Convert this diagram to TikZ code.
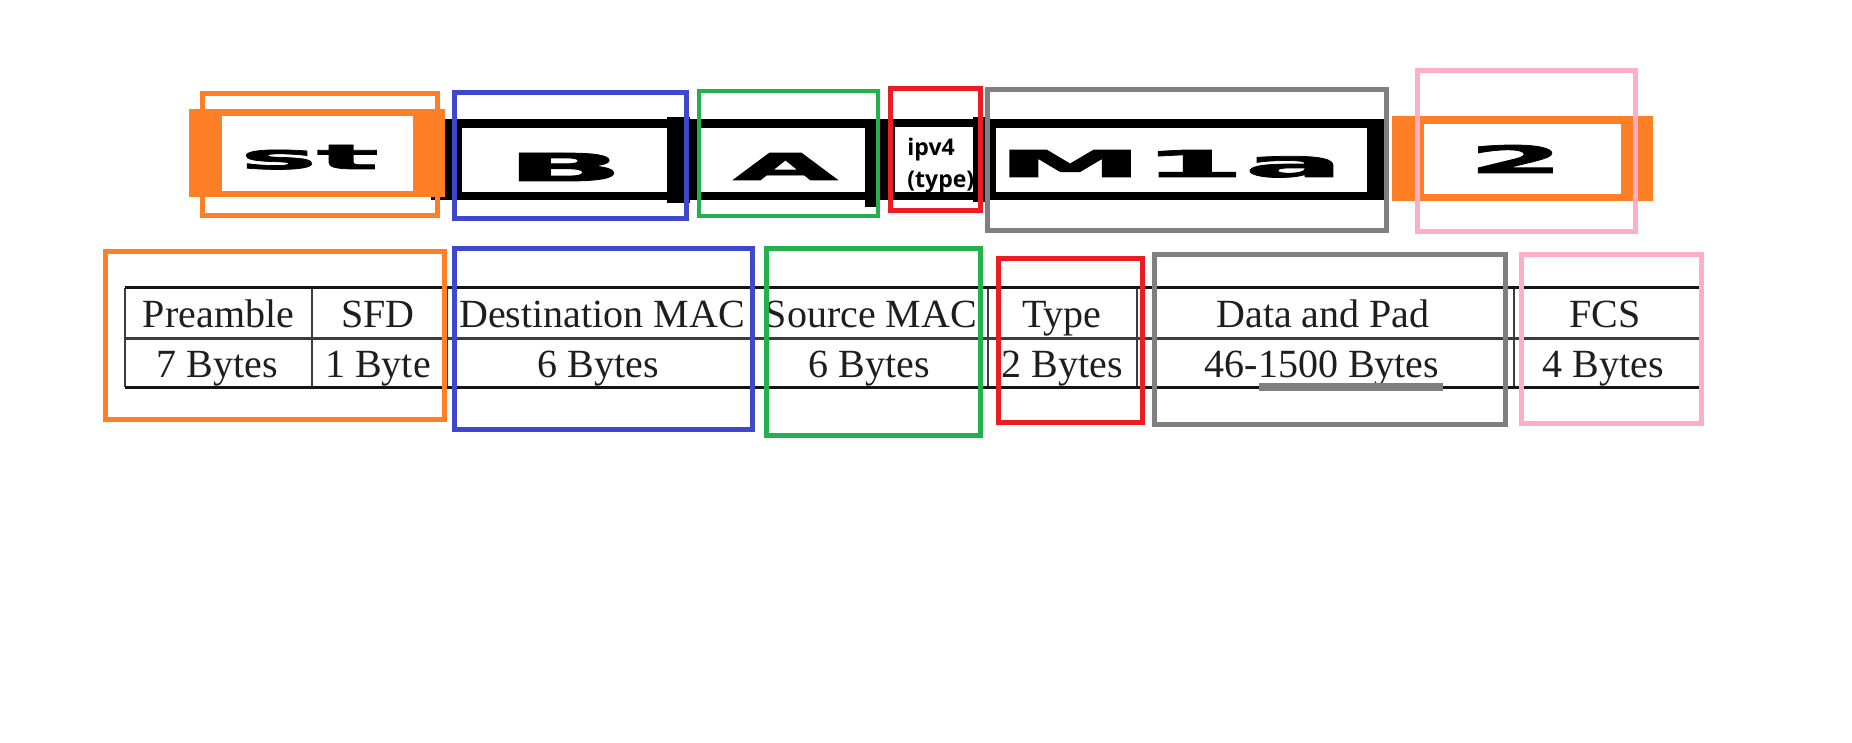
\documentclass[tikz,border=0pt]{standalone}
\usepackage{graphicx}
\usepackage{fontspec}
\setmainfont{Liberation Serif}
\newfontfamily\heavysans{DejaVu Sans}[BoldFeatures={FakeBold=2}]
\newfontfamily\labelsans{Open Sans}
\definecolor{porange}{RGB}{255,127,39}
\definecolor{pblue}{RGB}{63,72,204}
\definecolor{pgreen}{RGB}{34,177,76}
\definecolor{pred}{RGB}{237,28,36}
\definecolor{pgray}{RGB}{127,127,127}
\definecolor{ppink}{RGB}{255,174,201}
\definecolor{tabdark}{RGB}{20,20,20}
\definecolor{tabmid}{RGB}{60,60,60}
\definecolor{tabtext}{RGB}{30,30,30}
\begin{document}
\begin{tikzpicture}[x=0.5pt,y=-0.5pt,
  frame/.style={line width=2.5pt},
  thinframe/.style={line width=2pt},
  tline/.style={line width=1.5pt,draw=tabdark},
  mline/.style={line width=1.5pt,draw=tabmid},
  vline/.style={line width=1pt,draw=tabmid},
  celltxt/.style={anchor=base,inner sep=0pt,font=\fontsize{20pt}{24pt}\selectfont,text=tabtext},
  bigtxt/.style={anchor=base west,inner sep=0pt,font=\heavysans\bfseries},
  smalltxt/.style={anchor=base west,inner sep=0pt,font=\labelsans\bfseries\fontsize{11.5pt}{14pt}\selectfont},
]
\useasboundingbox[fill=white] (0,0) rectangle (1852,743);

% ---------- table ----------
\foreach \x in {125,312,447,753,988,1137,1514,1700}
  \draw[vline] (\x,288) -- (\x,387);
\draw[tline] (125,288) -- (1700,288);
\draw[mline] (125,338) -- (1700,338);
\draw[tline] (125,387) -- (1700,387);

\node[celltxt] (preamble) at (218.5,328) {Preamble};
\node[celltxt] (sfd) at (378,328) {SFD};
\node[celltxt] (dmac) at (602,328) {Destination MAC};
\node[celltxt] (smac) at (871,328) {Source MAC};
\node[celltxt] (typeh) at (1062,328) {Type};
\node[celltxt] (datah) at (1323,328) {Data and Pad};
\node[celltxt] (fcsh) at (1605,328) {FCS};

\node[celltxt] (preb) at (217,377) {7 Bytes};
\node[celltxt] (sfdb) at (378,377) {1 Byte};
\node[celltxt] (dmacb) at (598,377) {6 Bytes};
\node[celltxt] (smacb) at (869,377) {6 Bytes};
\node[celltxt] (typeb) at (1062,377) {2 Bytes};
\node[celltxt] (datab) at (1322,377) {46-1500 Bytes};
\node[celltxt] (fcsb) at (1603,377) {4 Bytes};

\fill[pgray] (1259,383) rectangle (1443,391);

% ---------- top frame bar ----------
\fill[black] (431,119) rectangle (1389,200);
\fill[white] (462,128) rectangle (667,192);
\fill[white] (700,128) rectangle (865,192);
\fill[white] (895,127) rectangle (973,192);
\fill[white] (996,128) rectangle (1367,192);
\fill[black] (667,117) rectangle (690,203);
\fill[black] (865,127) rectangle (880,207);
\fill[black] (973,117) rectangle (990,202);

\fill[porange] (189,109) rectangle (445,197);
\fill[white] (222,116) rectangle (413,191);
\fill[porange] (1392,116) rectangle (1653,201);
\fill[white] (1424,124) rectangle (1621,194);

\node[bigtxt] (st) at (240,169) {\resizebox{69pt}{12pt}{st}};
\node[bigtxt] (bb) at (506,181) {\resizebox{58.5pt}{14pt}{B}};
\node[bigtxt] (aa) at (733,180) {\resizebox{52pt}{13.5pt}{A}};
\node[bigtxt] (mla) at (997,177) {\resizebox{173pt}{13.5pt}{M1a}};
\node[bigtxt] (two) at (1468,173) {\resizebox{47.5pt}{14pt}{2}};

\begin{scope}
  \clip (895,127) rectangle (973,192);
  \node[smalltxt] (ipv) at (907,156) {ipv4};
  \node[smalltxt] (typ) at (907,188) {(type)};
\end{scope}

% ---------- coloured frames, top row ----------
\draw[frame,porange] (202.5,93.5) rectangle (437.5,215.5);
\draw[frame,pblue] (454.5,92.5) rectangle (686.5,218.5);
\draw[thinframe,pgreen] (699,91) rectangle (878,216);
\draw[frame,pred] (890.5,88.5) rectangle (980.5,210.5);
\draw[frame,pgray] (987.5,89.5) rectangle (1386.5,230.5);
\draw[frame,ppink] (1417.5,70.5) rectangle (1635.5,231.5);

% ---------- coloured frames, table row ----------
\draw[frame,porange] (105,251.5) rectangle (444.5,419.5);
\draw[frame,pblue] (454.5,248.5) rectangle (752.5,429.5);
\draw[frame,pgreen] (766.5,248.5) rectangle (980.5,435.5);
\draw[frame,pred] (998.5,258.5) rectangle (1142.5,422.5);
\draw[frame,pgray] (1154.5,254.5) rectangle (1505.5,424.5);
\draw[frame,ppink] (1521.5,254.5) rectangle (1701.5,423.5);
\end{tikzpicture}
\end{document}
